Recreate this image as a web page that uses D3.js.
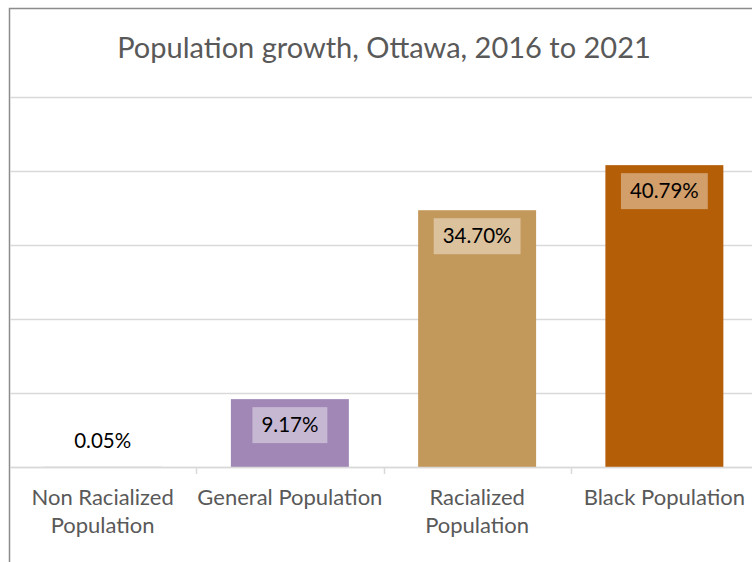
<!DOCTYPE html>
<html>
<head>
<meta charset="utf-8">
<script src="https://cdn.jsdelivr.net/npm/d3@7"></script>
<style>
  html, body { margin: 0; padding: 0; background: #fff; }
  svg { display: block; }
  text { font-family: Lato, "Open Sans", sans-serif; }
</style>
</head>
<body>
<svg id="chart" width="752" height="562"></svg>
<script>
// Population growth by group, Ottawa, 2016 to 2021 (percent)
const categories = [["Non Racialized", "Population"], ["General Population"], ["Racialized", "Population"], ["Black Population"]];
const growth = [0.05, 9.17, 34.70, 40.79];
const barColors = ["#d9d9d9", "#a087b6", "#c3985b", "#b45e08"];
const gridValues = [0, 10, 20, 30, 40, 50];
const title = "Population growth, Ottawa, 2016 to 2021";

const svg = d3.select("#chart");
const W = 752, H = 562;
const plot = { left: 9, right: 758, top: 97, bottom: 467 };

// chart frame (left and top edges visible)
svg.append("path")
  .attr("d", `M9.5,${H} V8.5 H${W}`)
  .attr("fill", "none")
  .attr("stroke", "#8c8c8c")
  .attr("stroke-width", 1.5);

svg.append("text")
  .attr("x", 384)
  .attr("y", 58)
  .attr("text-anchor", "middle")
  .attr("font-size", 29)
  .attr("fill", "#595959")
  .text(title);

const x = d3.scaleBand()
  .domain(d3.range(categories.length))
  .range([plot.left, plot.right])
  .paddingInner(0.37)
  .paddingOuter(0.185);

const y = d3.scaleLinear()
  .domain([0, 50])
  .range([plot.bottom, plot.top]);

// horizontal gridlines
svg.append("g")
  .selectAll("line")
  .data(gridValues)
  .join("line")
  .attr("x1", plot.left + 1)
  .attr("x2", W)
  .attr("y1", d => Math.round(y(d)) + 0.5)
  .attr("y2", d => Math.round(y(d)) + 0.5)
  .attr("stroke", "#d9d9d9")
  .attr("stroke-width", 1.5);

// bars
svg.append("g")
  .selectAll("rect")
  .data(growth)
  .join("rect")
  .attr("x", (d, i) => x(i))
  .attr("width", x.bandwidth())
  .attr("y", d => y(d))
  .attr("height", d => Math.max(1, y(0) - y(d)))
  .attr("fill", (d, i) => barColors[i]);

// category axis: baseline with tick marks between categories
const bandStep = x.step();
const tickXs = d3.range(1, categories.length).map(i => x(i) - bandStep * x.paddingInner() / 2);
svg.append("line")
  .attr("x1", plot.left + 1).attr("x2", W)
  .attr("y1", y(0) + 0.5).attr("y2", y(0) + 0.5)
  .attr("stroke", "#d9d9d9").attr("stroke-width", 1.5);
svg.append("g")
  .selectAll("line")
  .data(tickXs)
  .join("line")
  .attr("x1", d => Math.round(d) + 0.5)
  .attr("x2", d => Math.round(d) + 0.5)
  .attr("y1", y(0))
  .attr("y2", y(0) + 7)
  .attr("stroke", "#d9d9d9")
  .attr("stroke-width", 1.5);

// category labels
const catG = svg.append("g")
  .selectAll("text")
  .data(categories)
  .join("text")
  .attr("x", (d, i) => x(i) + x.bandwidth() / 2)
  .attr("y", 505)
  .attr("text-anchor", "middle")
  .attr("font-size", 22)
  .attr("fill", "#595959");
catG.selectAll("tspan")
  .data(d => d)
  .join("tspan")
  .attr("x", function() { return this.parentNode.getAttribute("x"); })
  .attr("dy", (d, i) => i === 0 ? 0 : 28)
  .text(d => d);

// value labels
const fmt = d => d.toFixed(2) + "%";
const labels = svg.append("g")
  .selectAll("g")
  .data(growth)
  .join("g")
  .attr("transform", (d, i) => {
    const cx = x(i) + x.bandwidth() / 2;
    const inside = (y(0) - y(d)) > 50;
    const cy = inside ? y(d) + 26 : y(d) - 26;
    return `translate(${cx},${cy})`;
  });

labels.each(function(d) {
  const g = d3.select(this);
  const inside = (y(0) - y(d)) > 50;
  const t = g.append("text")
    .attr("text-anchor", "middle")
    .attr("dy", "0.35em")
    .attr("font-size", 20.5)
    .attr("fill", "#000")
    .text(fmt(d));
  if (inside) {
    const w = t.node().getComputedTextLength() + 18;
    g.insert("rect", "text")
      .attr("x", -w / 2)
      .attr("y", -18)
      .attr("width", w)
      .attr("height", 36)
      .attr("fill", "#fff")
      .attr("fill-opacity", 0.4);
  }
});
</script>
</body>
</html>
